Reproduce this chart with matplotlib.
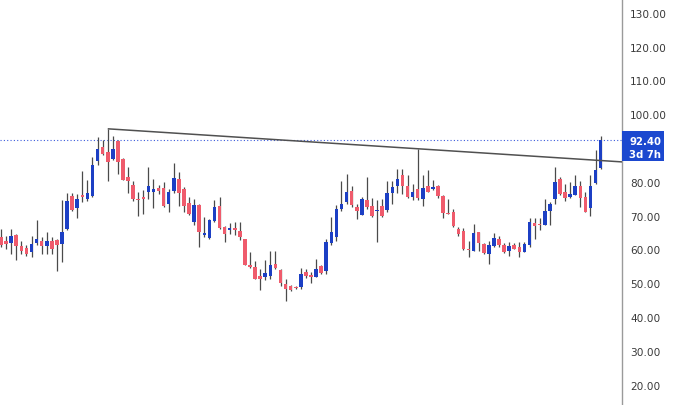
import matplotlib
matplotlib.use("Agg")
import matplotlib.pyplot as plt
from matplotlib.patches import Rectangle
import numpy as np

# ---- data ----
# B = up (blue) candle, R = down (red) candle
colors = list("RRBRRRBBRBRRBBRBRBBB"
              "RRBRRRRRRBBRRBBRRRBR"
              "BBBRRBRRRRRRBBRRRRRB"
              "RRBRBBBBBRRBRRBRBBBR"
              "RBRBRBRRRRRRRBRRBBRR"
              "BRRBBRRBBBRRBBRRBBB")
body_top = [63.6, 62.6, 64.1, 64.3, 60.9, 60.4, 61.6, 63.1, 62.6, 62.6, 62.6, 62.8, 65.1, 74.2, 75.9, 74.8, 76.2, 76.7, 85.0, 89.8,
            90.3, 88.8, 89.6, 92.2, 86.8, 81.4, 79.1, 75.0, 75.5, 78.7, 77.9, 78.1, 78.2, 77.1, 81.1, 80.9, 77.9, 73.8, 73.2, 73.2,
            64.9, 68.6, 72.5, 73.0, 66.8, 66.3, 66.2, 65.6, 63.1, 55.3, 54.8, 52.3, 53.1, 55.5, 55.7, 53.8, 49.8, 49.3, 49.0, 52.8,
            53.4, 52.5, 54.1, 55.0, 62.1, 65.3, 72.0, 73.5, 77.1, 77.4, 72.5, 75.0, 74.5, 73.0, 71.8, 73.0, 76.7, 78.4, 80.9, 82.1,
            78.9, 77.1, 77.9, 78.1, 78.7, 78.4, 78.9, 75.9, 70.8, 71.0, 66.1, 65.6, 60.2, 64.9, 65.1, 61.6, 61.2, 63.3, 63.1, 61.4,
            61.0, 61.4, 60.7, 61.6, 68.1, 67.9, 67.6, 71.5, 73.5, 80.1, 80.9, 77.1, 76.4, 78.7, 78.7, 75.5, 78.9, 83.6, 92.4]
body_bot = [61.4, 61.6, 61.9, 60.9, 59.7, 58.7, 59.4, 61.9, 60.9, 60.9, 60.0, 61.4, 61.6, 66.1, 71.8, 72.2, 75.4, 74.8, 75.9, 86.3,
            88.3, 86.0, 86.8, 85.8, 80.7, 80.4, 75.0, 74.6, 74.8, 76.9, 77.1, 77.3, 72.8, 73.5, 77.4, 76.7, 72.8, 70.5, 68.1, 65.3,
            64.3, 63.4, 68.3, 66.3, 64.6, 65.9, 65.9, 63.8, 55.5, 54.9, 51.3, 51.3, 51.8, 52.1, 54.5, 50.1, 48.3, 47.9, 48.7, 48.8,
            52.1, 51.8, 52.0, 53.1, 53.5, 61.9, 63.6, 72.0, 74.0, 73.2, 71.5, 70.3, 72.5, 69.8, 71.4, 69.8, 71.8, 76.7, 78.7, 78.7,
            75.5, 75.5, 75.2, 75.0, 77.1, 77.9, 75.8, 70.8, 70.5, 66.9, 64.6, 60.0, 59.8, 59.7, 61.9, 59.0, 58.7, 61.0, 61.4, 59.4,
            59.6, 60.2, 59.2, 59.4, 61.4, 66.9, 67.1, 67.3, 71.5, 74.8, 76.4, 75.2, 75.5, 76.2, 75.2, 71.2, 72.2, 79.7, 84.0]
highs = [66.1, 63.9, 66.1, 64.5, 62.4, 61.2, 63.9, 68.6, 63.6, 65.1, 63.6, 63.0, 74.5, 76.7, 76.7, 76.4, 83.3, 80.6, 87.3, 93.2,
         92.5, 95.7, 93.7, 92.5, 87.0, 84.3, 80.4, 76.9, 77.7, 84.3, 80.9, 79.0, 79.9, 77.9, 85.6, 82.9, 78.4, 75.5, 74.9, 73.5,
         69.5, 69.0, 74.5, 75.5, 66.9, 67.8, 68.1, 68.1, 63.2, 59.4, 56.7, 54.3, 57.0, 59.7, 59.7, 54.3, 51.3, 49.5, 49.3, 54.5,
         54.1, 53.3, 57.2, 55.3, 63.1, 69.5, 73.2, 80.4, 82.4, 78.9, 73.5, 75.5, 81.4, 75.2, 74.5, 75.0, 80.4, 80.4, 83.8, 83.8,
         81.9, 79.4, 89.8, 82.1, 83.4, 80.7, 79.1, 76.1, 75.0, 72.0, 66.6, 66.3, 62.6, 67.6, 65.3, 61.9, 62.6, 64.9, 63.9, 62.0,
         62.1, 62.0, 62.1, 62.3, 69.2, 69.2, 69.2, 75.0, 74.0, 84.3, 81.4, 79.4, 79.9, 81.9, 80.4, 76.9, 81.9, 89.3, 93.5]
lows = [60.7, 60.0, 58.7, 57.0, 58.7, 58.0, 57.7, 61.4, 58.7, 58.7, 58.7, 53.5, 56.2, 65.8, 71.5, 69.2, 74.0, 74.2, 75.6, 85.0,
        88.0, 80.3, 86.6, 82.4, 80.5, 76.7, 74.2, 70.0, 70.5, 75.0, 72.2, 76.4, 72.5, 71.2, 76.7, 72.8, 71.2, 70.3, 67.3, 60.7,
        63.6, 63.2, 68.1, 66.2, 62.2, 64.6, 64.3, 62.9, 55.3, 54.5, 51.2, 48.1, 51.1, 51.3, 54.3, 49.3, 44.9, 47.7, 48.3, 48.3,
        51.5, 50.1, 51.8, 52.8, 52.8, 61.2, 62.6, 71.5, 73.5, 72.5, 69.0, 70.1, 72.0, 69.5, 62.3, 69.5, 71.2, 73.5, 76.7, 76.4,
        75.2, 74.5, 74.5, 72.8, 76.9, 77.7, 75.2, 69.3, 70.5, 66.6, 63.9, 59.8, 57.7, 59.5, 59.7, 58.7, 55.7, 60.7, 60.7, 59.0,
        58.2, 60.0, 57.7, 59.2, 60.7, 63.1, 65.9, 67.1, 67.1, 73.5, 76.2, 74.2, 75.3, 76.0, 72.5, 71.0, 69.8, 79.4, 83.8]

last_price = 92.40
countdown = "3d 7h"
trend_anchor_idx = [21, 82]          # candles whose highs define the trendline
ytick_values = [20, 30, 40, 50, 60, 70, 80, 100, 110, 120, 130]

opens = [b if c == "B" else t for c, t, b in zip(colors, body_top, body_bot)]
closes = [t if c == "B" else b for c, t, b in zip(colors, body_top, body_bot)]

# ---- figure ----
W, H, DPI = 680, 406, 100
fig = plt.figure(figsize=(W / DPI, H / DPI), dpi=DPI)
fig.patch.set_facecolor("white")
axr = 622 / W
ax = fig.add_axes([0, 0, axr, 1])
ax.set_facecolor("white")

RED = "#ef5b6c"
BLUE = "#1c3fc4"
WICK = "#4a4a4a"

n = len(opens)
xs = np.arange(n)
bw = 0.7
for i in range(n):
    col = BLUE if colors[i] == "B" else RED
    ax.vlines(xs[i], lows[i], highs[i], color=WICK, linewidth=0.9, zorder=2)
    lo = min(opens[i], closes[i])
    hgt = max(abs(closes[i] - opens[i]), 0.35)
    ax.add_patch(Rectangle((xs[i] - bw / 2, lo), bw, hgt, facecolor=col,
                           edgecolor="none", zorder=3))

# axis limits (price per pixel scale matched to reference)
ax.set_xlim(-0.2, 122.2)
ax.set_ylim(14.0, 134.1)

# trendline through two highs, extended to right edge
x0, x1 = trend_anchor_idx
y0, y1 = highs[x0], highs[x1]
slope = (y1 - y0) / (x1 - x0)
xe = 122.2
ax.plot([x0, xe], [y0, y0 + slope * (xe - x0)], color="#505050", linewidth=1.1,
        zorder=4, solid_capstyle="butt")

# last price dotted line
ax.axhline(last_price, color="#3b5bdb", linewidth=0.8, linestyle=(0, (1, 2)), zorder=1)

# axes styling
for s in ["top", "left", "bottom"]:
    ax.spines[s].set_visible(False)
ax.spines["right"].set_color("#9a9a9a")
ax.spines["right"].set_linewidth(1.0)
ax.set_xticks([])
ax.yaxis.tick_right()
ax.set_yticks(ytick_values)
ax.set_yticklabels([f"{v:.2f}" for v in ytick_values])
ax.tick_params(axis="y", length=0, pad=6, labelsize=7.6, labelcolor="#3a3a3a")

# price label box on the axis
bx0, bx1 = 622 / W, 664 / W
by0, by1 = 1 - 162 / H, 1 - 132 / H
fig.patches.append(Rectangle((bx0, by0), bx1 - bx0, by1 - by0, transform=fig.transFigure,
                             facecolor="#1b48cf", edgecolor="none", zorder=5))
fig.text(629 / W, 1 - 142 / H, f"{last_price:.2f}", color="white", fontsize=7.3,
         fontweight="bold", va="center", ha="left", zorder=6)
fig.text(629 / W, 1 - 155 / H, countdown, color="white", fontsize=7.3,
         fontweight="bold", va="center", ha="left", zorder=6)

fig.savefig("out.png", dpi=DPI, facecolor="white")
